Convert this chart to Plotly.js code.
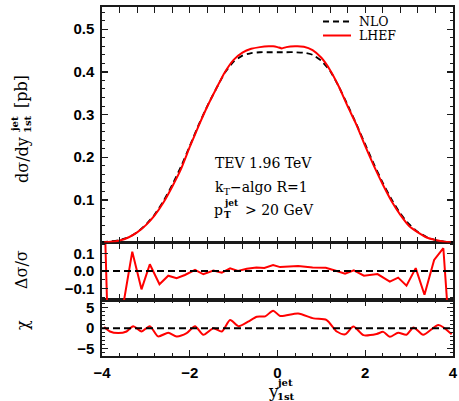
<!DOCTYPE html>
<html><head><meta charset="utf-8">
<script src="https://cdn.plot.ly/plotly-3.0.1.min.js"></script>
<style>html,body{margin:0;padding:0;background:#fff}#chart{width:459px;height:401px}</style>
</head><body><div id="chart"></div>
<script>
// ---- data ----
const nloX = [-4.0,-3.8,-3.6,-3.4,-3.2,-3.0,-2.8,-2.6,-2.4,-2.2,-2.0,-1.8,-1.6,-1.4,-1.2,-1.0,-0.8,-0.6,-0.4,-0.2,0.0,0.2,0.4,0.6,0.8,1.0,1.2,1.4,1.6,1.8,2.0,2.2,2.4,2.6,2.8,3.0,3.2,3.4,3.6,3.8,4.0];
const nloY = [0.001,0.003,0.006,0.012,0.024,0.042,0.066,0.097,0.135,0.178,0.226,0.275,0.320,0.360,0.398,0.424,0.438,0.444,0.446,0.446,0.446,0.446,0.446,0.445,0.440,0.426,0.402,0.365,0.322,0.277,0.230,0.183,0.140,0.101,0.068,0.043,0.025,0.013,0.006,0.002,0.001];

const lhefX = [-3.95,-3.8,-3.6,-3.4,-3.2,-3.0,-2.8,-2.6,-2.4,-2.2,-2.0,-1.8,-1.6,-1.4,-1.2,-1.0,-0.8,-0.6,-0.4,-0.2,-0.1,0.0,0.1,0.2,0.4,0.6,0.8,1.0,1.2,1.4,1.6,1.8,2.0,2.2,2.4,2.6,2.8,3.0,3.2,3.4,3.6,3.8,3.95];
const lhefY = [0.001,0.002,0.005,0.012,0.024,0.041,0.064,0.094,0.131,0.172,0.224,0.273,0.319,0.360,0.399,0.428,0.445,0.454,0.458,0.460,0.460,0.458,0.455,0.458,0.460,0.459,0.451,0.433,0.404,0.365,0.319,0.276,0.226,0.179,0.136,0.097,0.065,0.039,0.024,0.012,0.006,0.002,0.001];

const ratioX = [-3.95,-3.86,-3.52,-3.31,-3.10,-2.91,-2.69,-2.49,-2.30,-2.11,-1.88,-1.69,-1.46,-1.27,-1.08,-0.90,-0.70,-0.48,-0.30,-0.10,0.06,0.20,0.47,0.80,1.10,1.33,1.54,1.74,1.97,2.28,2.56,2.75,2.94,3.15,3.35,3.57,3.78,3.90];
const ratioY = [0.40,-0.40,-0.20,0.11,-0.105,0.038,-0.076,-0.027,-0.042,-0.023,0.006,-0.019,0.002,-0.010,0.015,0.000,0.012,0.020,0.017,0.034,0.022,0.025,0.028,0.020,0.018,0.001,-0.016,0.003,-0.027,-0.018,-0.061,-0.038,-0.084,0.016,-0.136,0.063,0.130,-0.30];

const chiX = [-3.95,-3.82,-3.63,-3.44,-3.29,-3.10,-2.91,-2.72,-2.49,-2.30,-2.07,-1.88,-1.69,-1.46,-1.27,-1.08,-0.89,-0.67,-0.47,-0.28,-0.10,0.06,0.47,0.82,1.12,1.35,1.54,1.73,1.96,2.26,2.41,2.56,2.75,2.94,3.10,3.32,3.67,3.97];
const chiY = [0.3,-0.8,-1.2,-0.8,0.5,-0.8,0.5,-2.0,-1.1,-2.0,-1.2,0.5,-1.6,0.0,-0.8,2.0,0.5,1.6,2.8,2.9,4.3,3.0,3.6,2.4,2.0,-0.8,-1.5,0.4,-1.7,-1.4,-0.9,-2.1,-1.1,-1.6,0.2,-1.6,0.8,-1.5];

const seriesNames = ['NLO','LHEF'];
const xTicks = [-4,-2,0,2,4];
const mainTicks = [0.1,0.2,0.3,0.4,0.5];
const ratioTicks = [-0.1,0.0,0.1];
const chiTicks = [-5,0,5];
const infoLines = ['TEV 1.96 TeV','k<sub>T</sub>\u2212algo R=1'];

// ---- layout helpers ----
const L=102, R=453, T=7, B=356;
const PX = p => (p-L)/(R-L);
const PY = p => (B-p)/(B-T);
const serif = 'DejaVu Serif';
function ann(text, px, py, size, o){
  return Object.assign({text, xref:'paper', yref:'paper', x:PX(px), y:PY(py), showarrow:false,
    xanchor:'left', yanchor:'middle', font:{family:serif, size:size, color:'#000'}}, o||{});
}
const tickfont = {family:'Liberation Sans', size:15, color:'#000', weight:'bold'};
const lineCol = '#1a1a1a';
function yax(dom, rng, tv, fmt, minorD){
  return {domain:dom, range:rng, tickvals:tv, tickformat:fmt, ticks:'inside', ticklen:6, tickwidth:1.3,
    tickcolor:lineCol, showline:true, linecolor:lineCol, linewidth:1.6, mirror:'ticks', showgrid:false,
    zeroline:false, tickfont:tickfont, anchor:'x', ticklabelstandoff:3,
    minor:{dtick:minorD, ticks:'inside', ticklen:3, tickcolor:lineCol, tickwidth:1, showgrid:false}};
}
const d1 = 56/349, d2 = 113.4/349;
const small = s => ({family:serif, size:s, color:'#000', weight:'bold'});

const traces = [
  {x:nloX, y:nloY, name:seriesNames[0], yaxis:'y3', mode:'lines', line:{color:'#000', width:1.8, dash:'6px,4px', shape:'spline', smoothing:0.5}},
  {x:lhefX, y:lhefY, name:seriesNames[1], yaxis:'y3', mode:'lines', line:{color:'#ff0000', width:2, shape:'spline', smoothing:0.5}},
  {x:ratioX, y:ratioY, yaxis:'y2', mode:'lines', line:{color:'#ff0000', width:2}},
  {x:chiX, y:chiY, yaxis:'y', mode:'lines', line:{color:'#ff0000', width:2, shape:'spline', smoothing:0.7}}
];

const layout = {
  width:459, height:401, margin:{l:L, r:459-R, t:T, b:401-B}, showlegend:false,
  paper_bgcolor:'#fff', plot_bgcolor:'#fff',
  xaxis:{range:[-4,4], tickvals:xTicks, ticks:'inside', ticklen:6, tickwidth:1.3, tickcolor:lineCol,
    showline:true, linecolor:lineCol, linewidth:1.6, mirror:'allticks', showgrid:false, zeroline:false,
    tickfont:tickfont, anchor:'y', ticklabelstandoff:2,
    minor:{dtick:0.4, tick0:0, ticks:'inside', ticklen:3, tickcolor:lineCol, tickwidth:1, showgrid:false}},
  yaxis: yax([0,d1], [-6.8,6.9], chiTicks, 'd', 1),
  yaxis2: yax([d1,d2], [-0.166,0.162], ratioTicks, '.1f', 0.05),
  yaxis3: yax([d2,1], [0,0.552], mainTicks, '.1f', 0.02),
  shapes:[
    {type:'line', xref:'paper', x0:0, x1:1, yref:'y2', y0:0, y1:0, line:{color:'#000', width:2, dash:'7px,4px'}},
    {type:'line', xref:'paper', x0:0, x1:1, yref:'y', y0:0, y1:0, line:{color:'#000', width:2, dash:'7px,4px'}},
    {type:'line', xref:'paper', yref:'paper', x0:PX(323), x1:PX(351), y0:PY(21.5), y1:PY(21.5), line:{color:'#000', width:1.8, dash:'6px,4px'}},
    {type:'line', xref:'paper', yref:'paper', x0:PX(323), x1:PX(351), y0:PY(35.5), y1:PY(35.5), line:{color:'#ff0000', width:2}}
  ],
  annotations:[
    ann(seriesNames[0], 357, 21.5, 12.5),
    ann(seriesNames[1], 357, 35.5, 12.5),
    ann(infoLines[0], 213, 163, 14),
    ann(infoLines[1], 213, 188, 14),
    ann('p', 212, 210, 14),
    ann('jet', 222, 203, 9, {font:small(9)}),
    ann('T', 222, 215, 9, {font:small(9)}),
    ann('> 20 GeV', 243, 210, 14),
    // y title main (rotated)
    ann('d\u03c3/dy', 22, 160, 16, {textangle:-90, xanchor:'center'}),
    ann('jet', 14, 124, 10, {textangle:-90, xanchor:'center', font:small(10)}),
    ann('1st', 27, 124, 10, {textangle:-90, xanchor:'center', font:small(10)}),
    ann('[pb]', 22, 92, 16, {textangle:-90, xanchor:'center'}),
    ann('\u0394\u03c3/\u03c3', 21, 270, 16, {textangle:-90, xanchor:'center'}),
    ann('\u03c7', 22, 325, 16, {textangle:-90, xanchor:'center'}),
    // x title
    ann('y', 273, 391, 17, {xanchor:'center'}),
    ann('jet', 285, 382, 10, {xanchor:'center', font:small(10)}),
    ann('1st', 286, 396, 10, {xanchor:'center', font:small(10)})
  ]
};
Plotly.newPlot('chart', traces, layout, {staticPlot:true, displayModeBar:false});
</script></body></html>
